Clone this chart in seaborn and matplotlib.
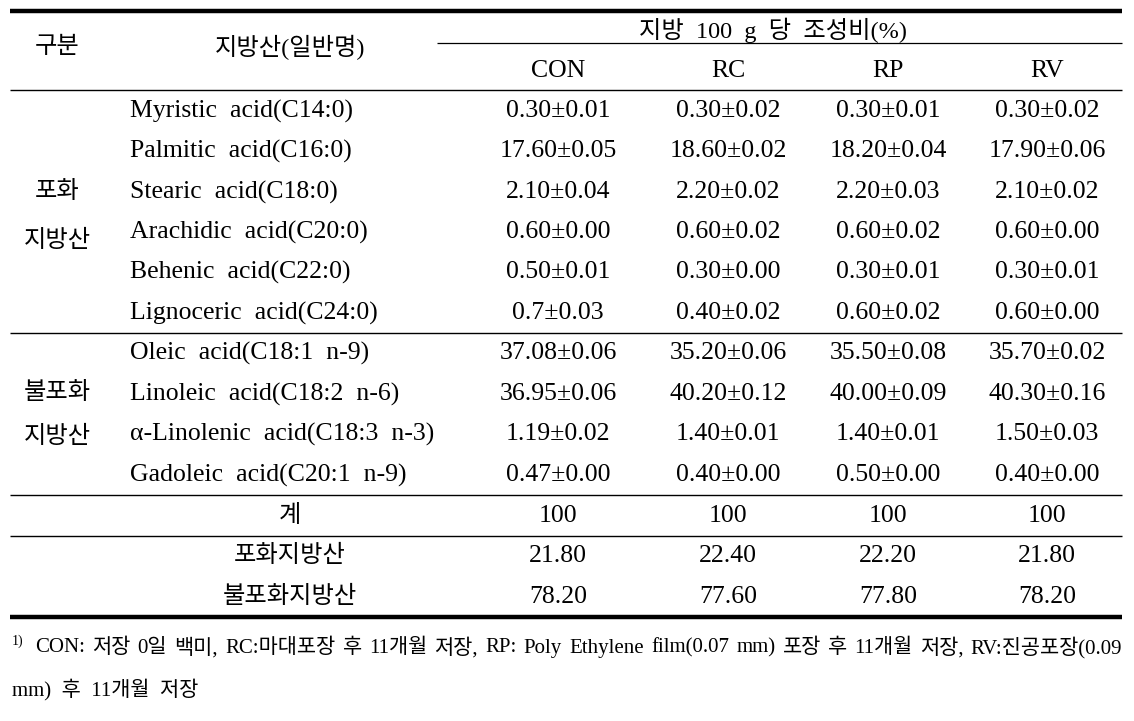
import matplotlib
matplotlib.use("Agg")
import matplotlib.pyplot as plt
import seaborn as sns

sns.set_style("white")
plt.rcParams['font.family'] = ['Liberation Serif', 'Noto Sans CJK KR', 'DejaVu Sans']

# ---- data ----
groups = ["CON", "RC", "RP", "RV"]
sat_names = ["Myristic acid(C14:0)", "Palmitic acid(C16:0)", "Stearic acid(C18:0)",
             "Arachidic acid(C20:0)", "Behenic acid(C22:0)", "Lignoceric acid(C24:0)"]
sat_vals = [
    ["0.30±0.01", "0.30±0.02", "0.30±0.01", "0.30±0.02"],
    ["17.60±0.05", "18.60±0.02", "18.20±0.04", "17.90±0.06"],
    ["2.10±0.04", "2.20±0.02", "2.20±0.03", "2.10±0.02"],
    ["0.60±0.00", "0.60±0.02", "0.60±0.02", "0.60±0.00"],
    ["0.50±0.01", "0.30±0.00", "0.30±0.01", "0.30±0.01"],
    ["0.7±0.03", "0.40±0.02", "0.60±0.02", "0.60±0.00"],
]
unsat_names = ["Oleic acid(C18:1 n-9)", "Linoleic acid(C18:2 n-6)",
               "α-Linolenic acid(C18:3 n-3)", "Gadoleic acid(C20:1 n-9)"]
unsat_vals = [
    ["37.08±0.06", "35.20±0.06", "35.50±0.08", "35.70±0.02"],
    ["36.95±0.06", "40.20±0.12", "40.00±0.09", "40.30±0.16"],
    ["1.19±0.02", "1.40±0.01", "1.40±0.01", "1.50±0.03"],
    ["0.47±0.00", "0.40±0.00", "0.50±0.00", "0.40±0.00"],
]
total_vals = ["100", "100", "100", "100"]
sfa_vals = ["21.80", "22.40", "22.20", "21.80"]
ufa_vals = ["78.20", "77.60", "77.80", "78.20"]

footnote1 = "CON: 저장 0일 백미, RC:마대포장 후 11개월 저장, RP: Poly Ethylene film(0.07 mm) 포장 후 11개월 저장, RV:진공포장(0.09"
footnote2 = "mm) 후 11개월 저장"

# ---- layout (pixel coordinates) ----
W, H = 1134, 721
fig = plt.figure(figsize=(W / 100, H / 100), dpi=100)
ax = fig.add_axes([0, 0, 1, 1])
ax.set_xlim(0, W)
ax.set_ylim(H, 0)
ax.axis("off")

fs = 18.5
fs_kr = 17.5
col_x = [558, 728, 888, 1047]
name_x = 130
grp_x = 57
x0, x1 = 10, 1122

def txt(x, y, s, ha="center", size=fs):
    return ax.text(x, y, s, ha=ha, va="center", fontsize=size, color="black")

# rules
ax.hlines(11, x0, x1, color="black", lw=3.2)
ax.hlines(43, 437, x1, color="black", lw=0.9)
ax.hlines([90, 333, 495, 536], x0, x1, color="black", lw=1.0)
ax.hlines(617, x0, x1, color="black", lw=3.2)

# header
txt(grp_x, 47, "구분", size=fs_kr)
txt(290, 47, "지방산(일반명)", size=fs_kr)
txt(773, 30, "지방  100  g  당  조성비(%)", size=fs_kr)
for x, g in zip(col_x, groups):
    txt(x, 71, g)

# saturated block
sat_y = [111, 151, 192, 232, 272, 313]
txt(grp_x, 192, "포화", size=fs_kr)
txt(grp_x, 241, "지방산", size=fs_kr)
for y, n, row in zip(sat_y, sat_names, sat_vals):
    txt(name_x, y, n.replace(" ", "  "), ha="left")
    for x, v in zip(col_x, row):
        txt(x, y, v)

# unsaturated block
unsat_y = [353, 394, 434, 475]
txt(grp_x, 393, "불포화", size=fs_kr)
txt(grp_x, 437, "지방산", size=fs_kr)
for y, n, row in zip(unsat_y, unsat_names, unsat_vals):
    txt(name_x, y, n.replace(" ", "  "), ha="left")
    for x, v in zip(col_x, row):
        txt(x, y, v)

# totals
txt(290, 516, "계", size=fs_kr)
txt(290, 556, "포화지방산", size=fs_kr)
txt(290, 597, "불포화지방산", size=fs_kr)
for x, a, b, c in zip(col_x, total_vals, sfa_vals, ufa_vals):
    txt(x, 516, a)
    txt(x, 556, b)
    txt(x, 597, c)

# footnote (first line justified to the table width)
fs_fn = 15
txt(12, 641, "1)", ha="left", size=10)
words = footnote1.split(" ")
renderer = fig.canvas.get_renderer()
items = [txt(0, 648, w, ha="left", size=fs_fn) for w in words]
widths = []
for t in items:
    bb = t.get_window_extent(renderer=renderer)
    widths.append(bb.width)
start, end = 35, x1
gap = (end - start - sum(widths)) / (len(words) - 1)
cur = start
for t, w in zip(items, widths):
    t.set_x(cur)
    cur += w + gap
txt(12, 690, footnote2.replace(" ", "  "), ha="left", size=fs_fn)

fig.savefig("out.png", dpi=100)
